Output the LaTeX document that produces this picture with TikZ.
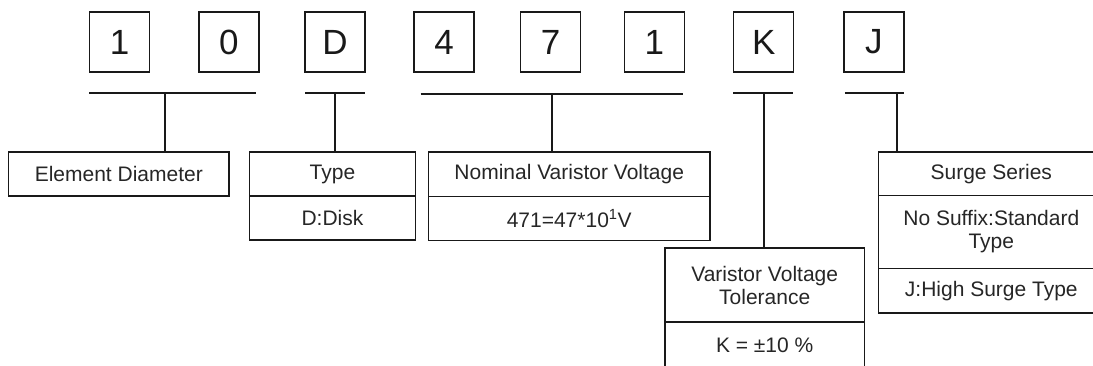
\documentclass[tikz,border=0pt]{standalone}
\usepackage{fontspec}
\setmainfont{Liberation Sans}
\begin{document}
\begin{tikzpicture}[x=1pt,y=-1pt,
  digitbox/.style={draw=black!90, line width=1.5pt, minimum width=60pt, minimum height=60pt, inner sep=0pt, text=black!90, font=\fontsize{35}{40}\selectfont},
  cell/.style={draw=black!90, line width=1.5pt, inner sep=0pt, align=center, text=black!85, font=\fontsize{21}{23}\selectfont},
  bar/.style={line width=2pt, draw=black!90},
  link/.style={line width=2pt, draw=black!90}]
\useasboundingbox (0,0) rectangle (1093,365);
\clip (0,0) rectangle (1093,365);

% code characters
\node[digitbox] (d1) at (119.5,42) {1};
\node[digitbox] (d2) at (228.8,42) {0};
\node[digitbox] (d3) at (335,42) {D};
\node[digitbox] (d4) at (444,42) {4};
\node[digitbox] (d5) at (550.7,42) {7};
\node[digitbox] (d6) at (654.4,42) {1};
\node[digitbox] (d7) at (763.7,42) {K};
\node[digitbox] (d8) at (873.9,42) {J};

% bars under groups
\coordinate (b1l) at (89.4,92.5);  \coordinate (b1r) at (255.9,92.5);
\coordinate (b2l) at (305,92.5);   \coordinate (b2r) at (365,92.5);
\coordinate (b3l) at (420.6,93.5); \coordinate (b3r) at (683.3,93.5);
\coordinate (b4l) at (733,92.5);   \coordinate (b4r) at (793,92.5);
\coordinate (b5l) at (844.8,92.5); \coordinate (b5r) at (904.4,92.5);
\draw[bar] (b1l) -- (b1r);
\draw[bar] (b2l) -- (b2r);
\draw[bar] (b3l) -- (b3r);
\draw[bar] (b4l) -- (b4r);
\draw[bar] (b5l) -- (b5r);

% stem points
\coordinate (s1) at (165,92.5);
\coordinate (s2) at (335,92.5);
\coordinate (s3) at (551.7,93.5);
\coordinate (s4) at (764,92.5);
\coordinate (s5) at (897.3,92.5);

% description boxes
\node[cell, minimum width=220.2pt, minimum height=44pt] (ed) at (118.8,174) {Element Diameter};

\node[cell, minimum width=165.6pt, minimum height=44pt] (typeA) at (332.5,174) {Type};
\node[cell, minimum width=165.6pt, minimum height=44pt] (typeB) at (332.5,218) {D:Disk};

\node[cell, minimum width=281.7pt, minimum height=44.5pt] (nomA) at (569.2,174.2) {Nominal Varistor Voltage};
\node[cell, minimum width=281.7pt, minimum height=44pt] (nomB) at (569.2,218.5) {471=47*10\textsuperscript{1}V};

\node[cell, minimum width=199.3pt, minimum height=74pt] (tolA) at (764.7,285) {Varistor Voltage\\Tolerance};
\node[cell, minimum width=199.3pt, minimum height=46pt] (tolB) at (764.7,345) {K = ±10 \%};

\node[cell, minimum width=226pt, minimum height=43.7pt] (surA) at (991.3,173.8) {Surge Series};
\node[cell, minimum width=226pt, minimum height=72.6pt] (surB) at (991.3,232) {No Suffix:Standard\\Type};
\node[cell, minimum width=226pt, minimum height=44.7pt] (surC) at (991.3,290.7) {J:High Surge Type};

% connectors
\draw[link] (s1) -- (s1 |- ed.north);
\draw[link] (s2) -- (s2 |- typeA.north);
\draw[link] (s3) -- (s3 |- nomA.north);
\draw[link] (s4) -- (s4 |- tolA.north);
\draw[link] (s5) -- (s5 |- surA.north);
\end{tikzpicture}
\end{document}
